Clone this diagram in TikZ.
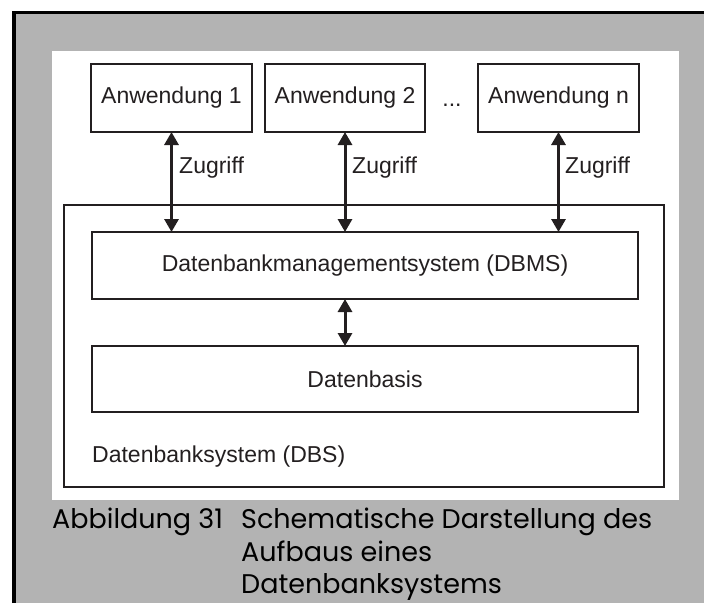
\documentclass[tikz,border=0pt]{standalone}
\usepackage{fontspec}
\setmainfont{Liberation Sans}
\newfontfamily\capfont{Poppins}
\usetikzlibrary{arrows.meta}
\definecolor{panelgray}{RGB}{179,179,179}
\definecolor{ink}{RGB}{35,31,32}
\tikzset{
  box/.style={draw=ink, line width=1.8pt, fill=white, inner sep=0pt, outer sep=0pt,
    font=\fontsize{23}{27}\selectfont, text=ink},
  lbl/.style={inner sep=0pt, font=\fontsize{23}{27}\selectfont, text=ink},
  access/.style={draw=ink, line width=3pt,
    {Triangle[width=14pt,length=13pt]}-{Triangle[width=14pt,length=13pt]}},
  captext/.style={inner sep=0pt, font=\capfont\fontsize{27}{36}\selectfont, text=black}
}
\begin{document}
\begin{tikzpicture}[x=1pt,y=-1pt]
  \useasboundingbox (0,0) rectangle (704,603);
  % page background, grey figure area and its frame
  \fill[white] (0,0) rectangle (704,603);
  \fill[panelgray] (14,12.5) rectangle (704,603);
  \draw[black, line width=3.5pt] (14,603) -- (14,12.5) -- (704,12.5);
  \fill[white] (52,51) rectangle (679,500);

  % database system frame
  \node[box, minimum width=600, minimum height=282] (dbs) at (364,346) {};
  \node[lbl, anchor=base west] (dbslabel) at (92,462) {Datenbanksystem (DBS)};

  % applications
  \node[box, minimum width=161, minimum height=68] (a1) at (171.5,98) {Anwendung 1};
  \node[box, minimum width=160, minimum height=68] (a2) at (345,98) {Anwendung 2};
  \node[box, minimum width=161, minimum height=68] (an) at (558.5,98) {Anwendung n};
  \node[lbl, anchor=base] (dots) at (452,106) {...};

  % DBMS and data base
  \node[box, minimum width=546, minimum height=67] (dbms) at (365,265.5) {Datenbankmanagementsystem (DBMS)};
  \node[box, minimum width=546, minimum height=66] (base) at (365,379) {Datenbasis};

  % access paths
  \draw[access] (a1.south) -- (a1.south |- dbms.north);
  \draw[access] (a2.south) -- (a2.south |- dbms.north);
  \draw[access] (an.south) -- (an.south |- dbms.north);
  \draw[access] (a2 |- dbms.south) -- (a2 |- base.north);
  \node[lbl, anchor=west] (z1) at (179,168) {Zugriff};
  \node[lbl, anchor=west] (z2) at (352,168) {Zugriff};
  \node[lbl, anchor=west] (zn) at (565,168) {Zugriff};

  % caption
  \node[captext, anchor=base west] (capnum) at (52,528) {Abbildung 31};
  \node[captext, anchor=base west] (cap1) at (241,528) {Schematische Darstellung des};
  \node[captext, anchor=base west] (cap2) at (241,561) {Aufbaus eines};
  \node[captext, anchor=base west] (cap3) at (241,593) {Datenbanksystems};
\end{tikzpicture}
\end{document}
